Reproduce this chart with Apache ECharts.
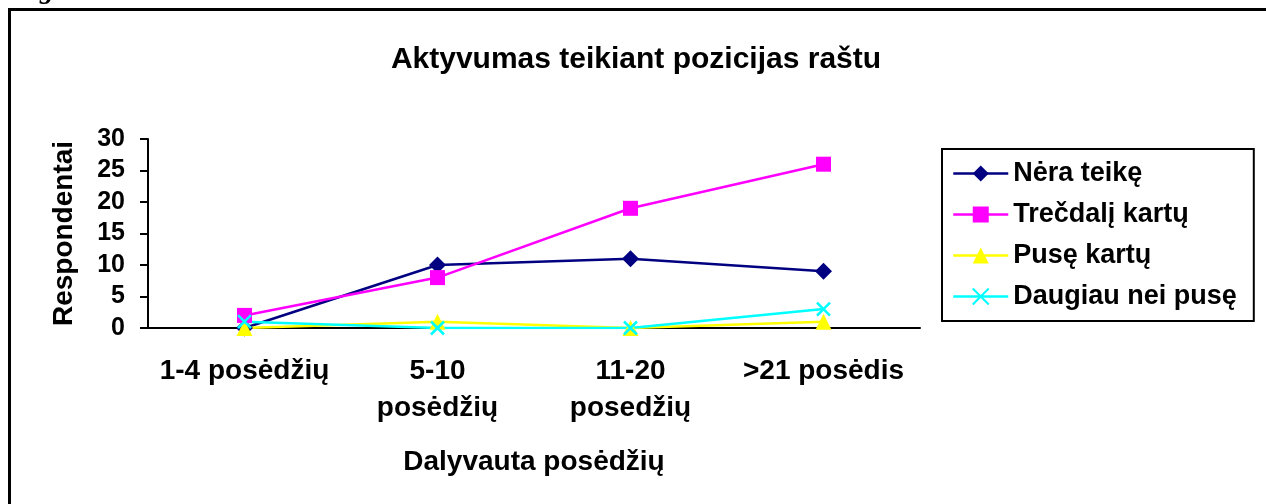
<!DOCTYPE html>
<html>
<head>
<meta charset="utf-8">
<script src="https://cdn.jsdelivr.net/npm/echarts@6/dist/echarts.min.js"></script>
<style>
  html, body { margin: 0; padding: 0; background: #fff; }
  #chart { width: 1266px; height: 504px; }
</style>
</head>
<body>
<div id="chart"></div>
<script>
// categories and values
const categories = ['1-4 posėdžių', '5-10\nposėdžių', '11-20\nposedžių', '>21 posėdis'];
const neraTeike = [0, 10, 11, 9];
const trecdaliKartu = [2, 8, 19, 26];
const puseKartu = [0, 1, 0, 1];
const daugiauNeiPuse = [1, 0, 0, 3];
const yTicks = [0, 5, 10, 15, 20, 25, 30];

const font = '"Liberation Sans", Arial, sans-serif';
const chart = echarts.init(document.getElementById('chart'));

function lineSeries(name, data, color, symbol, size, extra) {
    return Object.assign({
        name: name,
        type: 'line',
        data: data,
        symbol: symbol,
        symbolSize: size,
        showAllSymbol: true,
        lineStyle: { color: color, width: 2.5 },
        itemStyle: { color: color },
        emphasis: { disabled: true },
        animation: false
    }, extra || {});
}

chart.setOption({
    backgroundColor: '#fff',
    title: {
        text: 'Aktyvumas teikiant pozicijas raštu',
        left: 631,
        top: 40,
        textAlign: 'center',
        textStyle: { fontFamily: font, fontSize: 30, fontWeight: 'bold', color: '#000' }
    },
    graphic: [
        {
            type: 'rect',
            shape: { x: 9.5, y: 9.5, width: 1300, height: 520 },
            style: { fill: null, stroke: '#000', lineWidth: 3 },
            silent: true
        },
        {
            type: 'text',
            x: -2,
            y: 5,
            style: {
                text: 'Diagrama Nr.6.',
                font: 'italic bold 28px "Liberation Serif", "Times New Roman", serif',
                fill: '#000',
                textVerticalAlign: 'bottom'
            },
            silent: true
        }
    ],
    legend: {
        orient: 'vertical',
        left: 942,
        top: 149,
        padding: [11, 17, 11, 10],
        itemWidth: 55,
        itemHeight: 20,
        itemGap: 14,
        borderColor: '#000',
        borderWidth: 2,
        selectedMode: false,
        lineStyle: { width: 2.5 },
        textStyle: { fontFamily: font, fontSize: 27, fontWeight: 'bold', color: '#000' }
    },
    grid: { left: 148, top: 139, width: 772, height: 189, containLabel: false },
    xAxis: {
        type: 'category',
        data: categories,
        boundaryGap: true,
        name: 'Dalyvauta posėdžių',
        nameLocation: 'middle',
        nameGap: 120,
        nameTextStyle: { fontFamily: font, fontSize: 28, fontWeight: 'bold', color: '#000' },
        axisLine: { lineStyle: { color: '#000', width: 2 } },
        axisTick: { length: 8, lineStyle: { color: '#000', width: 2 } },
        axisLabel: {
            interval: 0,
            margin: 25,
            fontFamily: font, fontSize: 28, fontWeight: 'bold', color: '#000',
            lineHeight: 37
        },
        splitLine: { show: false }
    },
    yAxis: {
        type: 'value',
        min: yTicks[0],
        max: yTicks[yTicks.length - 1],
        interval: yTicks[1] - yTicks[0],
        name: 'Respondentai',
        nameLocation: 'middle',
        nameGap: 70,
        nameTextStyle: { fontFamily: font, fontSize: 28, fontWeight: 'bold', color: '#000' },
        axisLine: { show: true, lineStyle: { color: '#000', width: 2 } },
        axisTick: { show: true, length: 8, lineStyle: { color: '#000', width: 2 } },
        axisLabel: { margin: 23, fontFamily: font, fontSize: 25, fontWeight: 'bold', color: '#000' },
        splitLine: { show: false }
    },
    series: [
        lineSeries('Nėra teikę', neraTeike, '#000080', 'diamond', 17),
        lineSeries('Trečdalį kartų', trecdaliKartu, '#ff00ff', 'rect', 15),
        lineSeries('Pusę kartų', puseKartu, '#ffff00', 'triangle', 16),
        lineSeries('Daugiau nei pusę', daugiauNeiPuse, '#00ffff', 'path://M0,0L10,10M10,0L0,10', 13, {
            itemStyle: { color: '#00ffff', borderColor: '#00ffff', borderWidth: 2.5 }
        })
    ]
});
</script>
</body>
</html>
